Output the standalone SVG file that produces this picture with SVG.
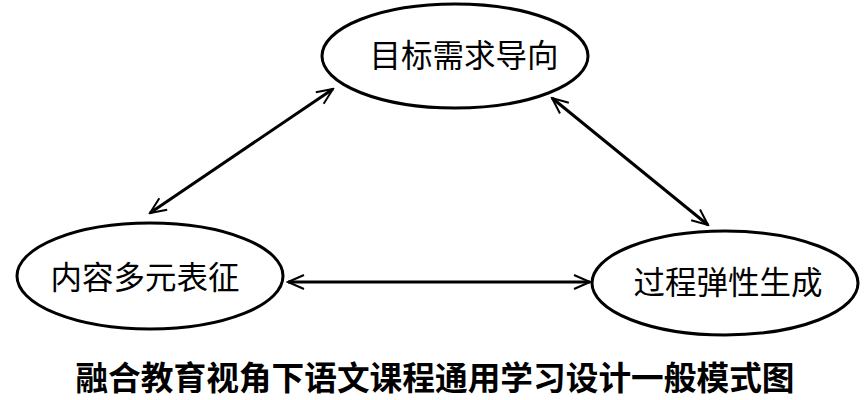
<svg xmlns="http://www.w3.org/2000/svg" width="865" height="400" viewBox="0 0 865 400">
<style>
.node ellipse{fill:#fff;stroke:#000;stroke-width:3}
.lbl{font-family:"Noto Sans CJK SC","Noto Sans CJK JP",sans-serif;font-size:31.5px;fill:#000;text-anchor:middle}
.title{font-family:"Noto Sans CJK SC","Noto Sans CJK JP",sans-serif;font-size:32.7px;font-weight:bold;fill:#000;text-anchor:middle}
.conn line{stroke:#000;stroke-width:3}
</style>
<defs>
<marker id="ah" viewBox="0 0 20 20" refX="18" refY="10" markerWidth="20" markerHeight="20" markerUnits="userSpaceOnUse" orient="auto-start-reverse">
<path d="M2,3 L18,10 L2,17" fill="none" stroke="#000" stroke-width="2"/>
</marker>
</defs>
<rect width="865" height="400" fill="#fff"/>
<g class="conn">
<line x1="150" y1="213" x2="333" y2="89" marker-start="url(#ah)" marker-end="url(#ah)"/>
<line x1="552" y1="98" x2="708" y2="225" marker-start="url(#ah)" marker-end="url(#ah)"/>
<line x1="288" y1="282" x2="590" y2="282" marker-start="url(#ah)" marker-end="url(#ah)"/>
</g>
<g id="n1" class="node"><ellipse cx="455" cy="56" rx="133" ry="52"/><text class="lbl" x="464" y="67">目标需求导向</text></g>
<g id="n2" class="node"><ellipse cx="150" cy="276" rx="133" ry="53"/><text class="lbl" x="145" y="289">内容多元表征</text></g>
<g id="n3" class="node"><ellipse cx="725" cy="283" rx="133" ry="52"/><text class="lbl" x="728" y="294">过程弹性生成</text></g>
<text class="title" x="435" y="390">融合教育视角下语文课程通用学习设计一般模式图</text>
</svg>
